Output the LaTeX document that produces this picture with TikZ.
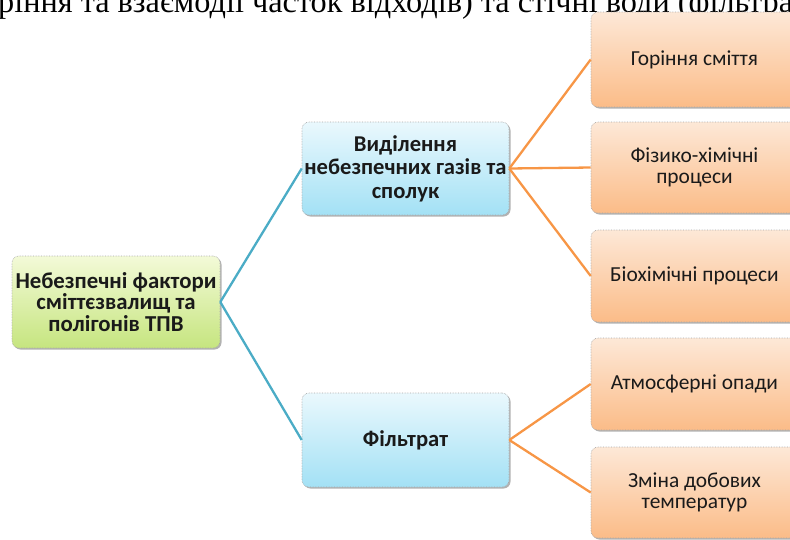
\documentclass[tikz,border=0pt]{standalone}
\usepackage{fontspec}
\setmainfont{Carlito}
\newfontfamily\serifcap{Liberation Serif}
\usetikzlibrary{shadows,shadings}
\definecolor{lineblue}{HTML}{4BACC6}
\definecolor{lineorange}{HTML}{F79646}
\definecolor{greentop}{HTML}{F3FAD8}
\definecolor{greenbot}{HTML}{C6E57F}
\definecolor{bluetop}{HTML}{EAF8FD}
\definecolor{bluebot}{HTML}{A3E1F5}
\definecolor{orangetop}{HTML}{FDE8D7}
\definecolor{orangebot}{HTML}{FBBC88}
\definecolor{txt}{HTML}{1A1A1A}
\begin{document}
\begin{tikzpicture}[x=1pt,y=-1pt,
  box/.style={rectangle, rounded corners=7pt, draw=gray!70, densely dotted,
    line width=0.6pt, align=center, inner sep=1pt, text=txt,
    drop shadow={shadow xshift=1.5pt, shadow yshift=-1.5pt, opacity=0.3, fill=black}},
  rootbox/.style={box, top color=greentop, bottom color=greenbot,
    minimum width=208pt, minimum height=92pt,
    font=\bfseries\fontsize{22.8}{21.5}\selectfont},
  midbox/.style={box, top color=bluetop, bottom color=bluebot,
    minimum width=207pt, minimum height=93pt,
    font=\bfseries\fontsize{22.6}{23.5}\selectfont},
  leafbox/.style={box, top color=orangetop, bottom color=orangebot,
    minimum width=207pt, minimum height=92pt,
    font=\fontsize{21.4}{21}\selectfont},
  blueline/.style={draw=lineblue, line width=2.3pt},
  orangeline/.style={draw=lineorange, line width=2.3pt}]
\useasboundingbox (0,0) rectangle (790,539);

\node[anchor=base west, inner sep=0, font=\serifcap\fontsize{32.3}{36}\selectfont] (toptext) at (-2,12)
  {ріння та взаємодії часток відходів) та стічні води (фільтрат)};

\node[rootbox] (root) at (116,302) {Небезпечні фактори\\сміттєзвалищ та\\полігонів ТПВ};
\node[midbox] (gas) at (405.5,168.5) {Виділення\\небезпечних газів та\\сполук};
\node[midbox, minimum height=94pt] (filt) at (405.5,440) {Фільтрат};

\node[leafbox, minimum height=95pt] (l1) at (694.5,59.5) {Горіння сміття};
\node[leafbox, minimum height=91pt] (l2) at (694.5,167.5) {Фізико-хімічні\\процеси};
\node[leafbox] (l3) at (694.5,276) {Біохімічні процеси};
\node[leafbox] (l4) at (694.5,384) {Атмосферні опади};
\node[leafbox, minimum height=91pt] (l5) at (694.5,492.5) {Зміна добових\\температур};

\draw[blueline] (root.east) -- (gas.west);
\draw[blueline] (root.east) -- (filt.west);
\draw[orangeline] (gas.east) -- (l1.west);
\draw[orangeline] (gas.east) -- (l2.west);
\draw[orangeline] (gas.east) -- (l3.west);
\draw[orangeline] (filt.east) -- (l4.west);
\draw[orangeline] (filt.east) -- (l5.west);
\end{tikzpicture}
\end{document}
